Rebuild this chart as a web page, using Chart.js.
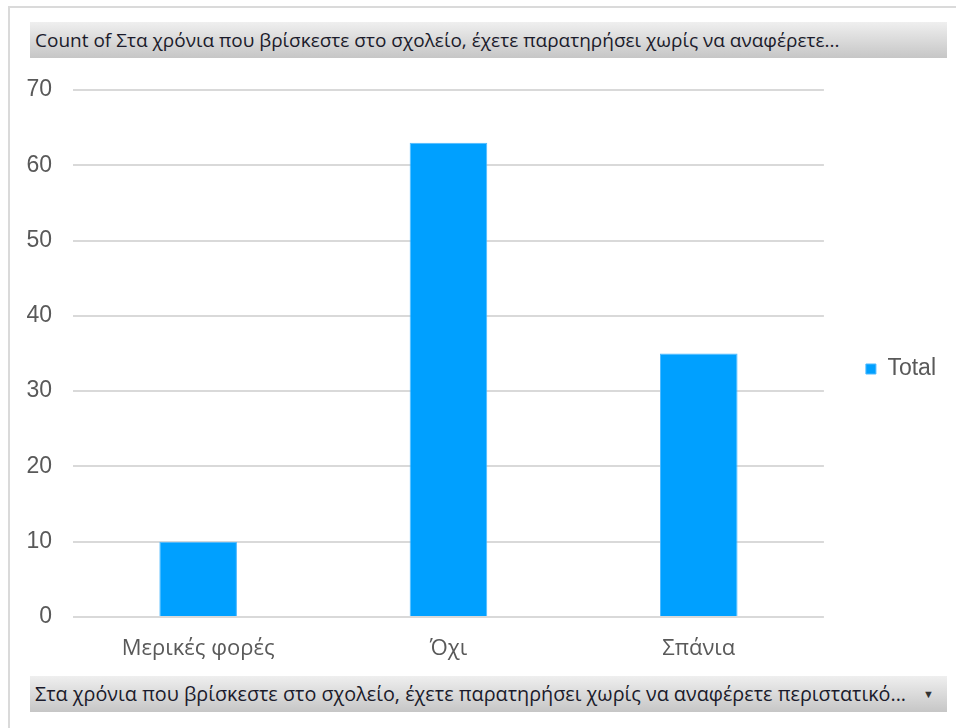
<!DOCTYPE html>
<html>
<head>
<meta charset="utf-8">
<script src="https://cdn.jsdelivr.net/npm/chart.js@4.4.0/dist/chart.umd.min.js"></script>
<style>
  body { margin: 0; background: #fff; }
  #wrap { position: relative; width: 956px; height: 728px; overflow: hidden; }
  #frame { position: absolute; left: 8px; top: 6px; width: 960px; height: 740px; border: 2px solid #dadada; box-sizing: border-box; }
  canvas { position: absolute; left: 0; top: 0; }
  .btn {
    position: absolute; left: 30px; width: 917px; height: 36px; line-height: 36px;
    background: linear-gradient(#efefef, #c6c6c6);
    font-family: "Open Sans", sans-serif; font-size: 19px; color: #1b1b2b;
    padding-left: 5px; box-sizing: border-box; white-space: nowrap; overflow: hidden;
  }
  #head { top: 22px; }
  #foot { top: 676px; font-size: 19.8px; }
  #arrow { position: absolute; left: 893px; top: 0; font-size: 11px; color: #333; }
</style>
</head>
<body>
<div id="wrap">
  <div id="frame"></div>
  <canvas id="bar-chartcanvas" width="956" height="728"></canvas>
  <div class="btn" id="head">Count of Στα χρόνια που βρίσκεστε στο σχολείο, έχετε παρατηρήσει χωρίς να αναφέρετε...</div>
  <div class="btn" id="foot">Στα χρόνια που βρίσκεστε στο σχολείο, έχετε παρατηρήσει χωρίς να αναφέρετε περιστατικό...<span id="arrow">▼</span></div>
</div>
<script>
var categories = ["Μερικές φορές", "Όχι", "Σπάνια"];
var totals = [10, 63, 35];
var seriesName = "Total";

var chartdata = {
	labels: categories,
	datasets: [
		{
			label: seriesName,
			backgroundColor: "#00a0ff",
			borderColor: "#4db9ff",
			borderWidth: 1,
			barPercentage: 0.31,
			categoryPercentage: 1,
			data: totals
		}
	]
};

var ctx = document.getElementById("bar-chartcanvas");
var chart = new Chart(ctx, {
	type: "bar",
	data: chartdata,
	options: {
		responsive: false,
		animation: false,
		layout: { padding: { top: 90, left: 0, right: 10, bottom: 0 } },
		plugins: {
			tooltip: { enabled: false },
			legend: {
				position: "right",
				fullSize: false,
				// empty title just nudges the single legend item down a bit
				title: { display: true, text: "", font: { size: 10 }, padding: { top: 0, bottom: 19 } },
				labels: {
					boxWidth: 10,
					boxHeight: 10,
					padding: 42,
					color: "#595959",
					font: { family: "Liberation Sans", size: 23 }
				}
			}
		},
		scales: {
			x: {
				grid: { display: false },
				border: { display: false },
				ticks: {
					color: "#595959",
					padding: 11,
					font: { family: "Open Sans", size: 22 }
				},
				afterFit: function(scale) { scale.height = 111; }
			},
			y: {
				min: 0,
				max: 70,
				grid: { color: "#d9d9d9", lineWidth: 2, drawTicks: false },
				border: { display: false },
				ticks: {
					stepSize: 10,
					color: "#595959",
					padding: 21,
					font: { family: "Liberation Sans", size: 23 }
				},
				afterFit: function(scale) { scale.width = 73; }
			}
		}
	}
});
</script>
</body>
</html>
